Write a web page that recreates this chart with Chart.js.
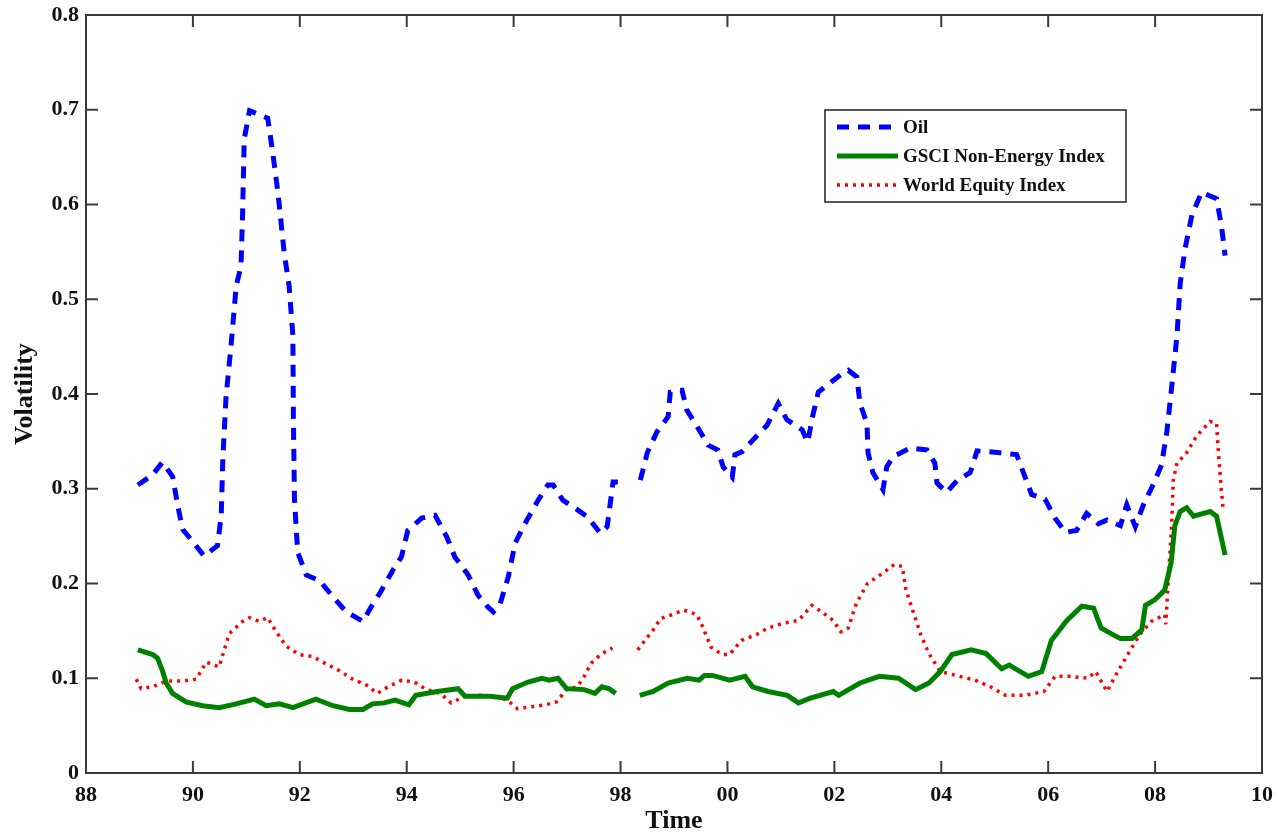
<!DOCTYPE html>
<html>
<head>
<meta charset="utf-8">
<script src="https://cdn.jsdelivr.net/npm/chart.js@4.4.1/dist/chart.umd.min.js"></script>
<style>
  html, body { margin: 0; padding: 0; background: #fff; }
  canvas { display: block; }
</style>
</head>
<body>
<canvas id="myChart" width="1278" height="834"></canvas>
<script>
// Volatilidad: petroleo, GSCI no energia, indice mundial de acciones
// anos como 88 = 1988 ... 109 = 2009 (null = hueco en 1998)

const oilYears = [88.97, 89.25, 89.43, 89.62, 89.72, 89.81, 90.0, 90.21, 90.46, 90.53, 90.56, 90.62, 90.71, 90.81, 90.9, 90.93, 90.96, 91.06, 91.4, 91.49, 91.59, 91.71, 91.8, 91.87, 91.88, 91.9, 91.96, 92.12, 92.37, 92.62, 92.87, 93.18, 93.33, 93.5, 93.74, 93.9, 94.02, 94.28, 94.53, 94.75, 94.9, 95.15, 95.33, 95.52, 95.62, 95.75, 95.9, 96.03, 96.25, 96.46, 96.64, 96.74, 96.92, 97.19, 97.39, 97.62, 97.75, 97.8, 97.86, 97.95,
  98.15,
  98.37, 98.5, 98.68, 98.89, 98.93, 99.05, 99.15, 99.24, 99.45, 99.64, 99.82, 99.92, 100.09, 100.14, 100.27, 100.52, 100.74, 100.95, 101.11, 101.4, 101.5, 101.6, 101.7, 101.88, 102.16, 102.26, 102.42, 102.48, 102.61, 102.63, 102.72, 102.91, 102.98, 103.1, 103.42, 103.73, 103.88, 103.92, 104.1, 104.3, 104.54, 104.67, 105.1, 105.41, 105.57, 105.69, 105.94, 106.13, 106.32, 106.53, 106.72, 106.94, 107.1, 107.35, 107.47, 107.63, 107.78, 107.97, 108.12, 108.22, 108.31, 108.41, 108.47, 108.56, 108.69, 108.87, 109.15, 109.24, 109.31];
const oilVals = [0.304, 0.315, 0.328, 0.313, 0.281, 0.257, 0.244, 0.229, 0.24, 0.272, 0.332, 0.397, 0.449, 0.514, 0.535, 0.591, 0.669, 0.699, 0.691, 0.656, 0.613, 0.548, 0.514, 0.462, 0.375, 0.289, 0.233, 0.209, 0.203, 0.186, 0.17, 0.16, 0.175, 0.19, 0.214, 0.228, 0.256, 0.269, 0.272, 0.249, 0.228, 0.209, 0.188, 0.175, 0.17, 0.179, 0.207, 0.243, 0.267, 0.288, 0.304, 0.304, 0.288, 0.278, 0.27, 0.253, 0.26, 0.281, 0.307, 0.307,
  null,
  0.309, 0.338, 0.36, 0.376, 0.402, 0.404, 0.404, 0.383, 0.364, 0.346, 0.341, 0.323, 0.312, 0.336, 0.339, 0.354, 0.367, 0.39, 0.373, 0.362, 0.349, 0.378, 0.402, 0.41, 0.422, 0.425, 0.418, 0.39, 0.369, 0.338, 0.317, 0.299, 0.323, 0.334, 0.343, 0.341, 0.327, 0.306, 0.296, 0.309, 0.317, 0.34, 0.338, 0.336, 0.312, 0.294, 0.289, 0.269, 0.254, 0.256, 0.274, 0.263, 0.267, 0.261, 0.283, 0.26, 0.283, 0.305, 0.325, 0.36, 0.407, 0.462, 0.517, 0.553, 0.589, 0.613, 0.606, 0.578, 0.546];

const gsciYears = [88.97, 89.25, 89.34, 89.43, 89.5, 89.62, 89.87, 90.18, 90.49, 90.81, 91.15, 91.37, 91.62, 91.87, 92.3, 92.62, 92.93, 93.18, 93.36, 93.58, 93.78, 94.04, 94.17, 94.57, 94.96, 95.09, 95.55, 95.88, 95.98, 96.27, 96.53, 96.66, 96.83, 96.99, 97.32, 97.52, 97.65, 97.78, 97.91,
  98.15,
  98.36, 98.61, 98.89, 99.25, 99.47, 99.57, 99.72, 100.04, 100.33, 100.47, 100.76, 101.12, 101.33, 101.55, 101.98, 102.08, 102.48, 102.84, 103.2, 103.52, 103.77, 103.98, 104.2, 104.56, 104.84, 105.13, 105.27, 105.63, 105.88, 106.06, 106.35, 106.63, 106.85, 106.99, 107.21, 107.35, 107.57, 107.75, 107.82, 108.0, 108.18, 108.3, 108.37, 108.47, 108.59, 108.72, 109.03, 109.15, 109.31];
const gsciVals = [0.13, 0.125, 0.121, 0.108, 0.095, 0.084, 0.075, 0.071, 0.069, 0.073, 0.078, 0.071, 0.073, 0.069, 0.078, 0.071, 0.067, 0.067, 0.073, 0.074, 0.077, 0.072, 0.082, 0.086, 0.089, 0.081, 0.081, 0.079, 0.089, 0.096, 0.1, 0.098, 0.1, 0.089, 0.088, 0.084, 0.091, 0.089, 0.084,
  null,
  0.082, 0.086, 0.095, 0.1, 0.098, 0.103, 0.103, 0.098, 0.102, 0.091, 0.086, 0.082, 0.074, 0.079, 0.086, 0.082, 0.095, 0.102, 0.1, 0.088, 0.095, 0.107, 0.125, 0.13, 0.126, 0.11, 0.114, 0.102, 0.107, 0.14, 0.161, 0.176, 0.174, 0.153, 0.146, 0.142, 0.142, 0.151, 0.177, 0.183, 0.193, 0.222, 0.261, 0.276, 0.28, 0.271, 0.276, 0.271, 0.23];

const equityYears = [88.94, 89.03, 89.25, 89.5, 89.81, 90.06, 90.25, 90.49, 90.68, 90.93, 91.06, 91.24, 91.4, 91.49, 91.74, 91.99, 92.24, 92.43, 92.74, 92.99, 93.24, 93.45, 93.65, 93.91, 94.14, 94.37, 94.63, 94.83, 95.09, 95.35, 95.61, 95.88, 96.07, 96.34, 96.6, 96.8, 96.99, 97.19, 97.32, 97.45, 97.65, 97.85,
  98.15,
  98.32, 98.61, 98.75, 98.96, 99.18, 99.43, 99.54, 99.69, 99.9, 100.04, 100.26, 100.54, 100.76, 101.04, 101.33, 101.58, 101.76, 101.98, 102.12, 102.26, 102.41, 102.62, 102.91, 103.12, 103.27, 103.34, 103.48, 103.63, 103.77, 103.98, 104.27, 104.63, 104.92, 105.2, 105.56, 105.92, 106.13, 106.42, 106.74, 106.89, 107.1, 107.28, 107.5, 107.71, 107.93, 108.18, 108.2, 108.25, 108.31, 108.34, 108.41, 108.59, 108.78, 109.03, 109.15, 109.18, 109.24, 109.27];
const equityVals = [0.099, 0.089, 0.091, 0.097, 0.097, 0.099, 0.117, 0.112, 0.147, 0.16, 0.164, 0.16, 0.164, 0.155, 0.134, 0.125, 0.123, 0.117, 0.108, 0.099, 0.093, 0.084, 0.091, 0.098, 0.096, 0.088, 0.084, 0.074, 0.081, 0.082, 0.081, 0.077, 0.068, 0.07, 0.072, 0.075, 0.088, 0.091, 0.102, 0.116, 0.126, 0.132,
  null,
  0.13, 0.151, 0.163, 0.167, 0.172, 0.167, 0.154, 0.133, 0.125, 0.125, 0.14, 0.146, 0.153, 0.158, 0.161, 0.177, 0.17, 0.161, 0.149, 0.153, 0.179, 0.2, 0.211, 0.22, 0.218, 0.193, 0.169, 0.144, 0.126, 0.107, 0.103, 0.098, 0.091, 0.082, 0.082, 0.086, 0.102, 0.102, 0.1, 0.107, 0.086, 0.105, 0.126, 0.146, 0.16, 0.167, 0.157, 0.207, 0.261, 0.309, 0.327, 0.338, 0.356, 0.371, 0.369, 0.342, 0.298, 0.281];

const seriesNames = ['Oil', 'GSCI Non-Energy Index', 'World Equity Index'];
const xTicks = [88, 90, 92, 94, 96, 98, 100, 102, 104, 106, 108, 110];
const yTicks = [0, 0.1, 0.2, 0.3, 0.4, 0.5, 0.6, 0.7, 0.8];

const serif = "'Liberation Serif', 'Times New Roman', serif";

function toPoints(xs, ys) {
  return xs.map((x, i) => ({ x: x, y: ys[i] }));
}

// marco con ticks hacia adentro en los 4 lados + leyenda en caja
const frame = {
  id: 'frame',
  afterDraw(chart) {
    const ctx = chart.ctx;
    const a = chart.chartArea;
    const xs = chart.scales.x, ys = chart.scales.y;
    ctx.save();
    ctx.strokeStyle = '#3a3a3a';
    ctx.lineWidth = 2;
    ctx.strokeRect(a.left, a.top, a.right - a.left, a.bottom - a.top);
    ctx.beginPath();
    xTicks.forEach(v => {
      const px = xs.getPixelForValue(v);
      ctx.moveTo(px, a.bottom); ctx.lineTo(px, a.bottom - 12);
      ctx.moveTo(px, a.top); ctx.lineTo(px, a.top + 12);
    });
    yTicks.forEach(v => {
      const py = ys.getPixelForValue(v);
      ctx.moveTo(a.left, py); ctx.lineTo(a.left + 12, py);
      ctx.moveTo(a.right, py); ctx.lineTo(a.right - 12, py);
    });
    ctx.stroke();

    // leyenda
    const bx = 825, by = 110, bw = 301, bh = 92;
    ctx.fillStyle = '#fff';
    ctx.fillRect(bx, by, bw, bh);
    ctx.strokeStyle = '#222';
    ctx.lineWidth = 1.5;
    ctx.strokeRect(bx, by, bw, bh);
    const rows = [127, 156, 185];
    chart.data.datasets.forEach((ds, i) => {
      const y = rows[i];
      ctx.beginPath();
      ctx.strokeStyle = ds.borderColor;
      ctx.lineWidth = ds.borderWidth;
      ctx.setLineDash(ds.borderDash || []);
      ctx.moveTo(837, y); ctx.lineTo(898, y);
      ctx.stroke();
      ctx.setLineDash([]);
      ctx.fillStyle = '#111';
      ctx.font = 'bold 19px ' + serif;
      ctx.textBaseline = 'middle';
      ctx.textAlign = 'left';
      ctx.fillText(ds.label, 903, y + 1);
    });
    ctx.restore();
  }
};

const data = {
  datasets: [{
    label: seriesNames[0],
    data: toPoints(oilYears, oilVals),
    borderColor: '#0000ff',
    borderWidth: 5,
    borderDash: [12, 9],
    pointRadius: 0,
    tension: 0,
    spanGaps: false,
  }, {
    label: seriesNames[1],
    data: toPoints(gsciYears, gsciVals),
    borderColor: '#008000',
    borderWidth: 5,
    pointRadius: 0,
    tension: 0,
    spanGaps: false,
  }, {
    label: seriesNames[2],
    data: toPoints(equityYears, equityVals),
    borderColor: '#ff0000',
    borderWidth: 3.5,
    borderDash: [3, 5],
    pointRadius: 0,
    tension: 0,
    spanGaps: false,
  }],
};

const config = {
  type: 'line',
  data: data,
  options: {
    responsive: false,
    animation: false,
    devicePixelRatio: 1,
    layout: { padding: { top: 15, right: 16, left: 0, bottom: 0 } },
    plugins: { legend: { display: false }, tooltip: { enabled: false } },
    scales: {
      x: {
        type: 'linear',
        min: 88, max: 110,
        afterBuildTicks: s => { s.ticks = xTicks.map(v => ({ value: v })); },
        afterFit: s => { s.height = 61; s.paddingLeft = 0; s.paddingRight = 0; },
        grid: { display: false, drawTicks: false },
        border: { display: false },
        ticks: {
          color: '#111',
          padding: 9,
          maxRotation: 0,
          font: { family: serif, size: 22, weight: 'bold' },
          callback: v => String(v % 100).padStart(2, '0'),
        },
        title: {
          display: true, text: 'Time', color: '#111',
          padding: { top: 0, bottom: -3 },
          font: { family: serif, size: 26, weight: 'bold' },
        },
      },
      y: {
        min: 0, max: 0.8,
        afterBuildTicks: s => { s.ticks = yTicks.map(v => ({ value: v })); },
        afterFit: s => { s.width = 86; s.paddingTop = 0; s.paddingBottom = 0; },
        grid: { display: false, drawTicks: false },
        border: { display: false },
        ticks: {
          color: '#111',
          padding: 7,
          font: { family: serif, size: 22, weight: 'bold' },
          callback: v => v === 0 ? '0' : v.toFixed(1),
        },
        title: {
          display: true, text: 'Volatility', color: '#111',
          padding: { top: 10, bottom: 0 },
          font: { family: serif, size: 26, weight: 'bold' },
        },
      },
    },
  },
  plugins: [frame],
};

const myChart = new Chart(document.getElementById('myChart'), config);
</script>
</body>
</html>
